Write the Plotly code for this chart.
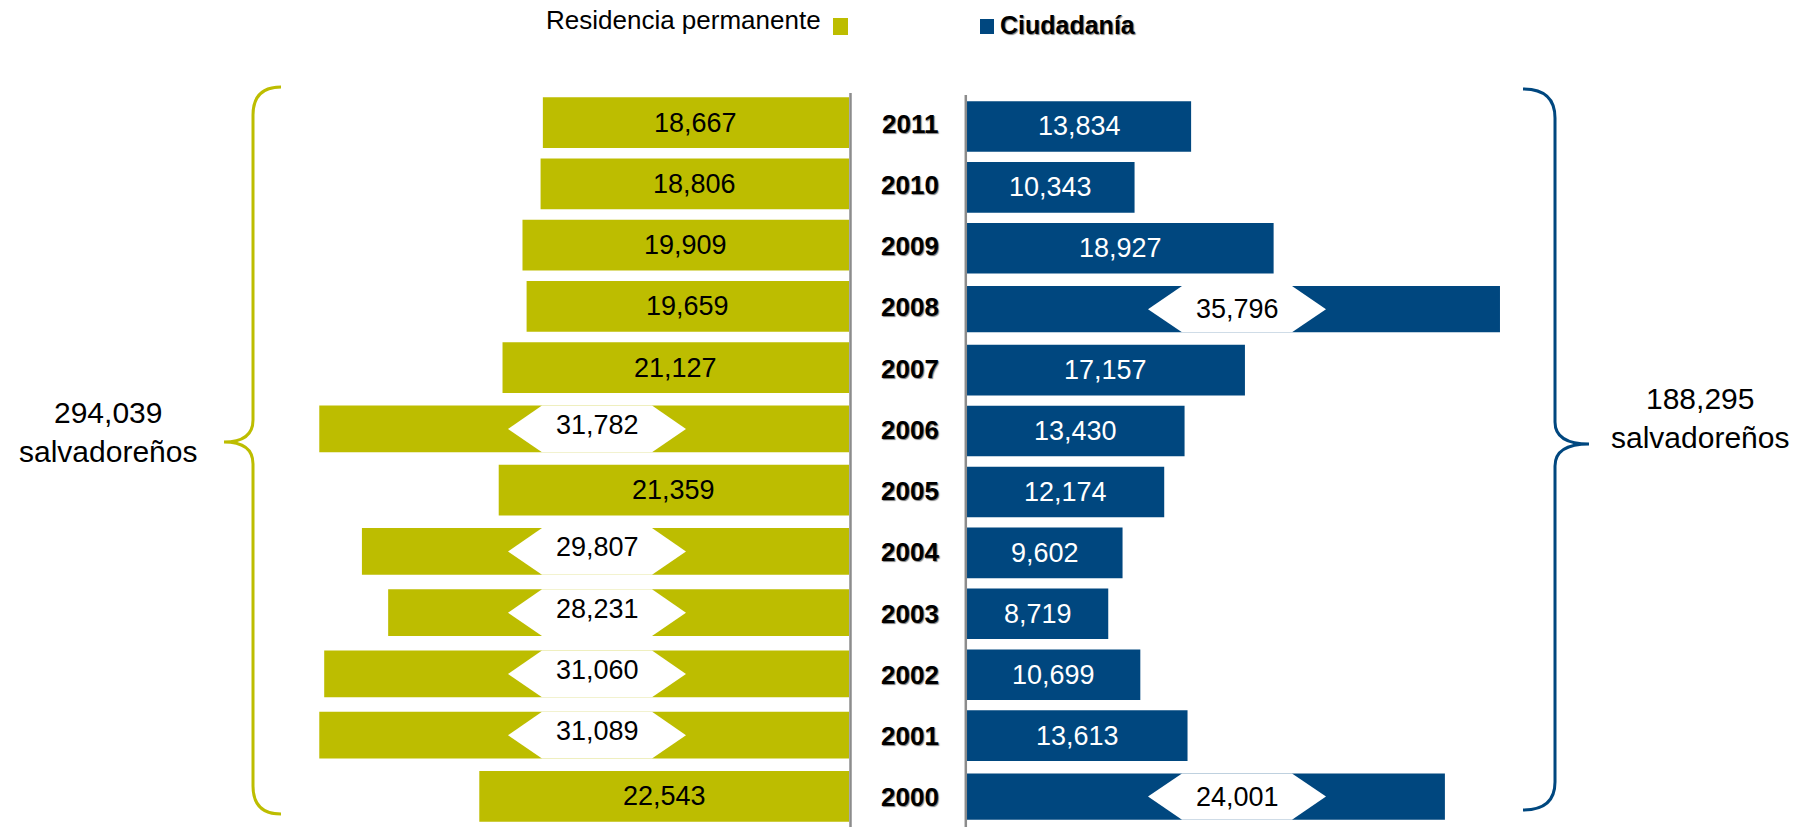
import plotly.graph_objects as go

# --- data -------------------------------------------------------------------
years = [2000, 2001, 2002, 2003, 2004, 2005, 2006, 2007, 2008, 2009, 2010, 2011]
residencia = [22543, 31089, 31060, 28231, 29807, 21359, 31782, 21127, 19659, 19909, 18806, 18667]
ciudadania = [24001, 13613, 10699, 8719, 9602, 12174, 13430, 17157, 35796, 18927, 10343, 13834]
# bars drawn on a broken scale: length as drawn in the picture
residencia_cortada = {2001: 32300, 2002: 32000, 2003: 28100, 2004: 29700, 2006: 32300}
ciudadania_cortada = {2000: 29500, 2008: 32900}
series_names = ["Residencia permanente", "Ciudadanía"]
unidad = "salvadoreños"

# --- look -------------------------------------------------------------------
W, H = 1816, 827
OLIVE, NAVY, AXIS = "#bdbd00", "#00477f", "#8c8c8c"
SANS = "Liberation Sans, Arial, Helvetica, sans-serif"

# panel geometry in pixels, and pixels per person on each side
L0, L1, LSCALE = 272, 849, 0.0164
R0, R1, RSCALE = 967, 1544, 0.0162
TOP_L, TOP_R = 92, 96
BREAK_L, BREAK_R = 597, 1237        # centre of the white cut, px
HEX_MID, HEX_TOP = 89, 55            # half-widths of the cut, px


def px(x, y):
    return x / W, 1 - y / H


def fmt(v):
    return f"{v:,}"


fig = go.Figure()


def panel(vals, cut, color, xa, ya, scale, break_px, origin, sign, txtcolor):
    lens = [cut.get(y, v) for y, v in zip(years, vals)]
    widths = [0.76 if y in cut else 0.83 for y in years]
    fig.add_trace(go.Bar(x=lens, y=years, orientation="h", width=widths,
                         marker=dict(color=color, line=dict(width=0)),
                         xaxis=xa, yaxis=ya, showlegend=False,
                         hovertemplate="%{y}: %{customdata}<extra></extra>",
                         customdata=[fmt(v) for v in vals]))
    bc = sign * (break_px - origin) / scale
    hm, ht = HEX_MID / scale, HEX_TOP / scale
    for y, v, L, w in zip(years, vals, lens, widths):
        if y in cut:
            t, b = y + w / 2, y - w / 2
            fig.add_trace(go.Scatter(
                x=[bc - ht, bc + ht, bc + hm, bc + ht, bc - ht, bc - hm, bc - ht],
                y=[t, t, y, b, b, y, t], mode="lines", fill="toself",
                fillcolor="white", line=dict(width=0, color="white"),
                xaxis=xa, yaxis=ya, showlegend=False, hoverinfo="skip"))
            fig.add_annotation(x=bc, y=y, xref=xa, yref=ya, text=fmt(v),
                               showarrow=False, yshift=4 if sign < 0 else 0,
                               font=dict(size=27, color="black", family=SANS))
        else:
            fig.add_annotation(x=L / 2, y=y, xref=xa, yref=ya, text=fmt(v),
                               showarrow=False,
                               font=dict(size=27, color=txtcolor, family=SANS))


panel(residencia, residencia_cortada, OLIVE, "x", "y", LSCALE, BREAK_L, L1, -1, "black")
panel(ciudadania, ciudadania_cortada, NAVY, "x2", "y2", RSCALE, BREAK_R, R0, 1, "white")

# year labels between the panels
for y in years:
    fig.add_annotation(x=910 / W, xref="paper", y=y, yref="y", text=str(y),
                       showarrow=False, yshift=-1,
                       font=dict(size=26, color="black", family=SANS, weight="bold",
                                 shadow="1px 1px 1px rgba(0,0,0,0.5)"))

# axis lines
shapes = []
for x, top in [(850.5, 93), (965.8, 95)]:
    x0, y0 = px(x, top)
    x1, y1 = px(x, H)
    shapes.append(dict(type="line", xref="paper", yref="paper", x0=x0, y0=y0,
                       x1=x1, y1=y1, line=dict(color=AXIS, width=2.5)))


def path(cmds):
    out = []
    for c, pts in cmds:
        s = c
        for (x, y) in pts:
            a, b = px(x, y)
            s += f" {a:.5f},{b:.5f}"
        out.append(s)
    return " ".join(out)


brace_l = path([("M", [(281, 87)]), ("Q", [(253, 87), (253, 115)]),
                ("L", [(253, 420)]), ("Q", [(253, 442), (224, 442)]),
                ("Q", [(253, 442), (253, 464)]), ("L", [(253, 786)]),
                ("Q", [(253, 814), (281, 814)])])
brace_r = path([("M", [(1523, 89)]), ("Q", [(1555, 89), (1555, 118)]),
                ("L", [(1555, 422)]), ("Q", [(1555, 444), (1589, 444)]),
                ("Q", [(1555, 444), (1555, 466)]), ("L", [(1555, 782)]),
                ("Q", [(1555, 810), (1523, 810)])])
shapes.append(dict(type="path", xref="paper", yref="paper", path=brace_l,
                   line=dict(color=OLIVE, width=3)))
shapes.append(dict(type="path", xref="paper", yref="paper", path=brace_r,
                   line=dict(color=NAVY, width=3)))

# legend squares
for (x0, y0, x1, y1), c in [((833, 18, 848, 35), OLIVE), ((980, 19, 994, 34), NAVY)]:
    a0, b0 = px(x0, y1)
    a1, b1 = px(x1, y0)
    shapes.append(dict(type="rect", xref="paper", yref="paper", x0=a0, y0=b0,
                       x1=a1, y1=b1, fillcolor=c, line=dict(width=0)))

lx, ly = px(823, 20)
fig.add_annotation(x=lx, y=ly, xref="paper", yref="paper", text=series_names[0],
                   xanchor="right", yanchor="middle", showarrow=False,
                   font=dict(size=26, color="black", family=SANS))
cx, cy = px(998, 25)
fig.add_annotation(x=cx, y=cy, xref="paper", yref="paper", text=series_names[1],
                   xanchor="left", yanchor="middle", showarrow=False,
                   font=dict(size=25, color="black", family=SANS, weight="bold",
                             shadow="1px 1px 1px rgba(0,0,0,0.5)"))

# totals next to the braces
for total, (x, y) in [(sum(residencia), (108, 432)), (sum(ciudadania), (1700, 418))]:
    a, b = px(x, y)
    fig.add_annotation(x=a, y=b, xref="paper", yref="paper",
                       text=f"{fmt(total)}<br>{unidad}", showarrow=False,
                       xanchor="center", yanchor="middle", align="center",
                       font=dict(size=30, color="black", family=SANS))

fig.update_layout(
    width=W, height=H, margin=dict(l=0, r=0, t=0, b=0),
    paper_bgcolor="white", plot_bgcolor="white", showlegend=False,
    shapes=shapes, barmode="overlay",
    xaxis=dict(domain=[L0 / W, L1 / W], range=[(L1 - L0) / LSCALE, 0],
               visible=False, fixedrange=True),
    xaxis2=dict(domain=[R0 / W, R1 / W], range=[0, (R1 - R0) / RSCALE],
                visible=False, fixedrange=True),
    yaxis=dict(domain=[0, 1 - TOP_L / H], range=[1999.5, 2011.5], anchor="x",
               visible=False, fixedrange=True),
    yaxis2=dict(domain=[0, 1 - TOP_R / H], range=[1999.5, 2011.5], anchor="x2",
                visible=False, fixedrange=True),
)

fig.write_html("out.html", config={"displayModeBar": False},
               post_script="document.body.style.margin='0px';")
